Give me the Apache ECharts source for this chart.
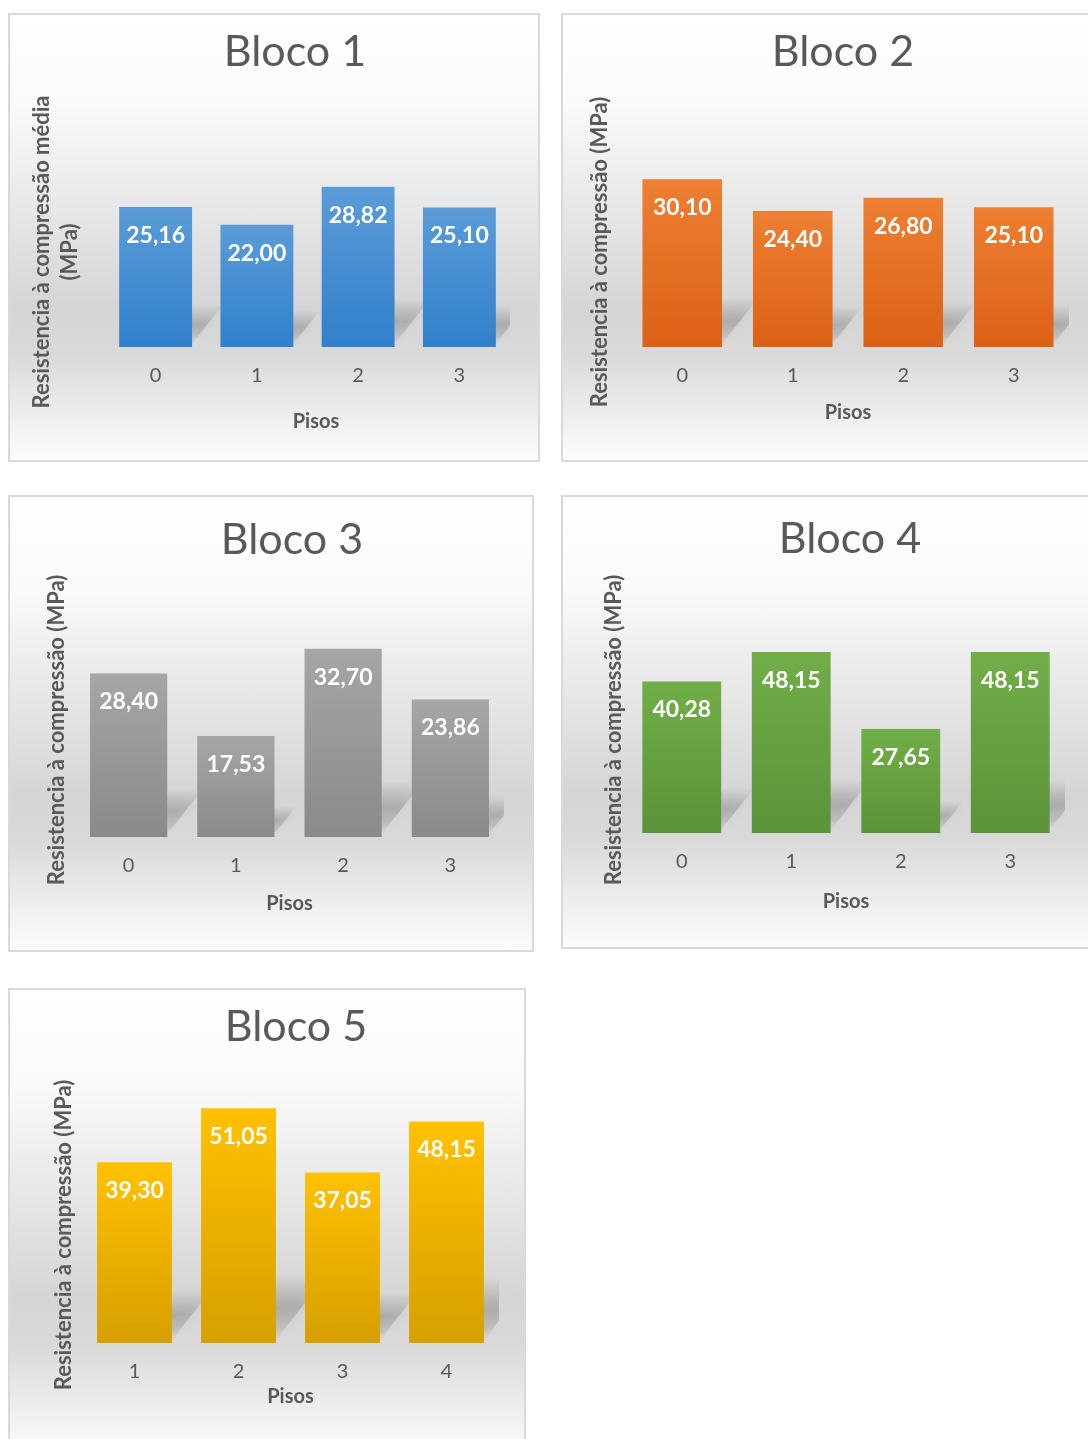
<!DOCTYPE html>
<html>
<head>
<meta charset="utf-8">
<script src="https://cdn.jsdelivr.net/npm/echarts@6/dist/echarts.min.js"></script>
<style>
  html, body { margin: 0; padding: 0; background: #fff; width: 1088px; height: 1439px; overflow: hidden; }
  .painel {
    position: absolute;
    box-sizing: border-box;
    border: 2px solid #d9d9d9;
    background: linear-gradient(to bottom, #ffffff 0%, #fafafa 20%, #e6e6e6 45%, #d5d5d5 66%, #d9d9d9 76%, #eeeeee 90%, #fcfcfc 100%);
  }
  .painel .chart { position: absolute; left: 0; top: 0; width: 100%; height: 100%; }
</style>
</head>
<body>
<div class="painel" id="p1" style="left:8px;top:13px;width:532px;height:449px"><div class="chart" id="c1"></div></div>
<div class="painel" id="p2" style="left:561px;top:13px;width:540px;height:449px"><div class="chart" id="c2"></div></div>
<div class="painel" id="p3" style="left:8px;top:495px;width:526px;height:457px"><div class="chart" id="c3"></div></div>
<div class="painel" id="p4" style="left:561px;top:495px;width:540px;height:454px"><div class="chart" id="c4"></div></div>
<div class="painel" id="p5" style="left:8px;top:988px;width:518px;height:470px"><div class="chart" id="c5"></div></div>

<script>
// dados
const titulos = ["Bloco 1", "Bloco 2", "Bloco 3", "Bloco 4", "Bloco 5"]
const pisosA = ["0", "1", "2", "3"]
const pisosB = ["1", "2", "3", "4"]
const bloco1 = [25.16, 22.00, 28.82, 25.10]
const bloco2 = [30.10, 24.40, 26.80, 25.10]
const bloco3 = [28.40, 17.53, 32.70, 23.86]
const bloco4 = [40.28, 48.15, 27.65, 48.15]
const bloco5 = [39.30, 51.05, 37.05, 48.15]
const nomeY1 = "Resistencia à compressão média\n(MPa)"
const nomeY = "Resistencia à compressão (MPa)"
const nomeX = "Pisos"

const fonte = "Lato, 'Open Sans', sans-serif"
const cinza = "#595959"

// layout de cada painel, em coordenadas da página
const paineis = [
  { id: "c1", ox: 10, oy: 15, w: 528, h: 445, gl: 105, gr: 510, base: 347, ppu: 5.56, max: 35,
    tx: 295, ty: 52, yx: 56, yy: 252, px: 8.5, py: 424, cats: pisosA, vals: bloco1, nome: nomeY1,
    cor: ["#5b9cd8", "#3180cb"] },
  { id: "c2", ox: 563, oy: 15, w: 536, h: 445, gl: 627, gr: 1069, base: 347, ppu: 5.57, max: 35,
    tx: 843, ty: 52, yx: 600, yy: 252, px: 0, py: 415, cats: pisosA, vals: bloco2, nome: nomeY,
    cor: ["#ee7f33", "#dc6114"] },
  { id: "c3", ox: 10, oy: 497, w: 522, h: 453, gl: 75, gr: 504, base: 837, ppu: 5.76, max: 35,
    tx: 292, ty: 540, yx: 57, yy: 730, px: 0, py: 906, cats: pisosA, vals: bloco3, nome: nomeY,
    cor: ["#a6a6a6", "#8a8a8a"] },
  { id: "c4", ox: 563, oy: 497, w: 536, h: 450, gl: 627, gr: 1065, base: 833, ppu: 3.76, max: 60,
    tx: 850, ty: 539, yx: 614, yy: 730, px: 0, py: 904, cats: pisosA, vals: bloco4, nome: nomeY,
    cor: ["#71ae48", "#5a9339"] },
  { id: "c5", ox: 10, oy: 990, w: 514, h: 466, gl: 82.5, gr: 498.5, base: 1343, ppu: 4.6, max: 60,
    tx: 296, ty: 1027, yx: 64, yy: 1235, px: 0, py: 1399, cats: pisosB, vals: bloco5, nome: nomeY,
    cor: ["#ffc100", "#d6a000"] },
]

function virgula(v) {
  return v.toFixed(2).replace(".", ",")
}

paineis.forEach(function (p, i) {
  let chart = echarts.init(document.getElementById(p.id))
  let top = p.base - p.max * p.ppu - p.oy
  let bottom = p.h - (p.base - p.oy)

  chart.setOption({
    animation: false,
    title: {
      text: titulos[i],
      left: p.tx - p.ox,
      top: p.ty - p.oy,
      padding: 0,
      textAlign: "center",
      textVerticalAlign: "middle",
      textStyle: { fontFamily: fonte, fontSize: 43, fontWeight: "normal", color: cinza },
    },
    graphic: [
      {
        type: "text",
        x: p.yx - p.ox,
        y: p.yy - p.oy,
        rotation: Math.PI / 2,
        style: {
          text: p.nome,
          font: "bold 22px " + fonte,
          fill: cinza,
          align: "center",
          verticalAlign: "middle",
          lineHeight: 28,
        },
      },
    ],
    grid: { left: p.gl - p.ox, right: p.w - (p.gr - p.ox), top: top, bottom: bottom },
    xAxis: {
      type: "category",
      data: p.cats,
      name: nomeX,
      nameLocation: "middle",
      nameGap: p.py - p.base - 12,
      nameTextStyle: { fontFamily: fonte, fontSize: 20, fontWeight: "bold", color: cinza, padding: [0, 0, 0, p.px * 2] },
      axisLine: { show: false },
      axisTick: { show: false },
      axisLabel: { fontFamily: fonte, fontSize: 20, color: cinza, margin: 19 },
    },
    yAxis: {
      type: "value",
      min: 0,
      max: p.max,
      show: false,
    },
    series: [
      {
        // sombra em perspectiva atrás das barras
        type: "custom",
        clip: true,
        z: 1,
        data: p.vals,
        renderItem: function (params, api) {
          let base = api.coord([api.value(0), 0])
          let topo = api.coord([api.value(0), api.value(1)])
          let bw = api.size([1, 0])[0] * 0.72
          let h = base[1] - topo[1]
          let sh = h * 0.28
          let dx = h * 0.22
          let x0 = base[0] - bw / 2
          let x1 = base[0] + bw / 2
          let y0 = base[1] - 3
          return {
            type: "polygon",
            shape: {
              points: [
                [x0, y0],
                [x1, y0],
                [x1 + dx, y0 - sh],
                [x0 + dx, y0 - sh],
              ],
            },
            style: {
              fill: new echarts.graphic.LinearGradient(0, 0, 0, 1, [
                { offset: 0, color: "rgba(0,0,0,0)" },
                { offset: 0.5, color: "rgba(0,0,0,0.16)" },
                { offset: 0.8, color: "rgba(0,0,0,0.1)" },
                { offset: 1, color: "rgba(0,0,0,0)" },
              ]),
              shadowBlur: 10,
              shadowColor: "rgba(0,0,0,0.25)",
            },
          }
        },
        encode: { x: 0, y: 1 },
      },
      {
        type: "bar",
        z: 2,
        data: p.vals,
        barCategoryGap: "28%",
        itemStyle: {
          color: new echarts.graphic.LinearGradient(0, 0, 0, 1, [
            { offset: 0, color: p.cor[0] },
            { offset: 1, color: p.cor[1] },
          ]),
        },
        label: {
          show: true,
          position: "insideTop",
          distance: 17,
          fontFamily: fonte,
          fontSize: 23,
          fontWeight: "bold",
          color: "#ffffff",
          formatter: function (d) {
            return virgula(d.value)
          },
        },
      },
    ],
  })
})
</script>
</body>
</html>
